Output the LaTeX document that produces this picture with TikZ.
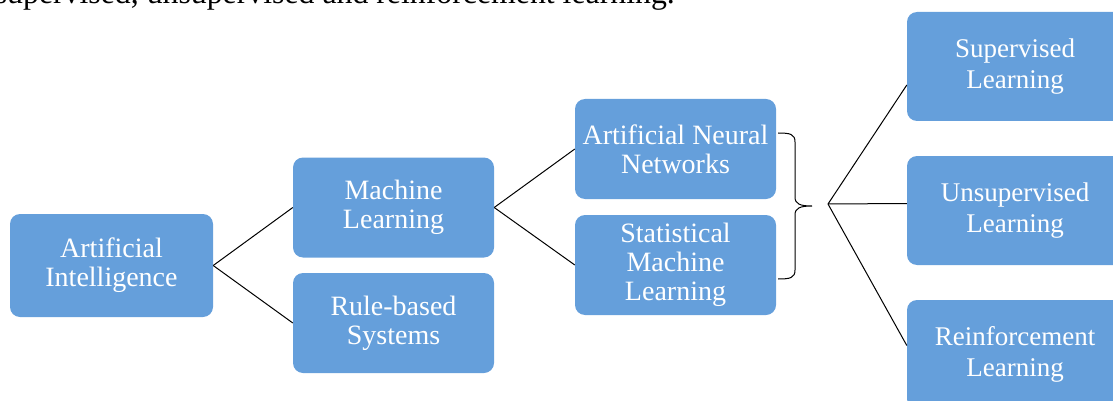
\documentclass[tikz,border=0pt]{standalone}
\usepackage{fontspec}
\setmainfont{Liberation Serif}
\definecolor{boxblue}{RGB}{101,159,219}
\begin{document}
\begin{tikzpicture}[x=1pt,y=-1pt,
  box/.style={fill=boxblue, draw=none, rounded corners=10pt, text=white,
    align=center, font=\fontsize{28}{29}\selectfont, inner sep=0pt,
    minimum width=201pt, minimum height=100pt},
  rbox/.style={box, minimum width=216pt, minimum height=109pt, font=\fontsize{27}{31}\selectfont},
  link/.style={draw=black, line width=1pt},
  brace/.style={draw=black, line width=1pt}]
\useasboundingbox (0,0) rectangle (1113,401);
\clip (0,0) rectangle (1113,401);
\node[anchor=base east, font=\fontsize{31.8}{36}\selectfont, inner sep=0pt] (top) at (675,4) {supervised, unsupervised and reinforcement learning.};
\node[box, minimum width=203pt, minimum height=103pt] (ai) at (111.5,265.5) {Artificial\\Intelligence};
\node[box] (ml) at (393.5,207.5) {Machine\\Learning};
\node[box] (rb) at (393.5,323) {Rule-based\\Systems};
\node[box] (ann) at (675.5,149) {Artificial Neural\\Networks};
\node[box] (sml) at (675.5,265) {Statistical\\Machine\\Learning};
\node[rbox] (sup) at (1015,66.5) {Supervised\\Learning};
\node[rbox] (uns) at (1015,210.5) {Unsupervised\\Learning};
\node[rbox] (rei) at (1015,354.5) {Reinforcement\\Learning};
\draw[link] (ai.east) -- (ml.west);
\draw[link] (ai.east) -- (rb.west);
\draw[link] (ml.east) -- (ann.west);
\draw[link] (ml.east) -- (sml.west);
\coordinate (btop) at (778,133);
\coordinate (bbot) at (778,279);
\coordinate (btip) at (812,206);
\coordinate (fan) at (828,204);
\draw[brace] (btop) .. controls (790,133) and (795,134) .. (795,142) -- (795,197)
  .. controls (795,204) and (800,206) .. (btip)
  .. controls (800,206) and (795,208) .. (795,215) -- (795,270)
  .. controls (795,278) and (790,279) .. (bbot);
\draw[link] (fan) -- ([yshift=-18.5pt]sup.west);
\draw[link] (fan) -- ([yshift=7pt]uns.west);
\draw[link] (fan) -- ([yshift=9pt]rei.west);
\end{tikzpicture}
\end{document}
